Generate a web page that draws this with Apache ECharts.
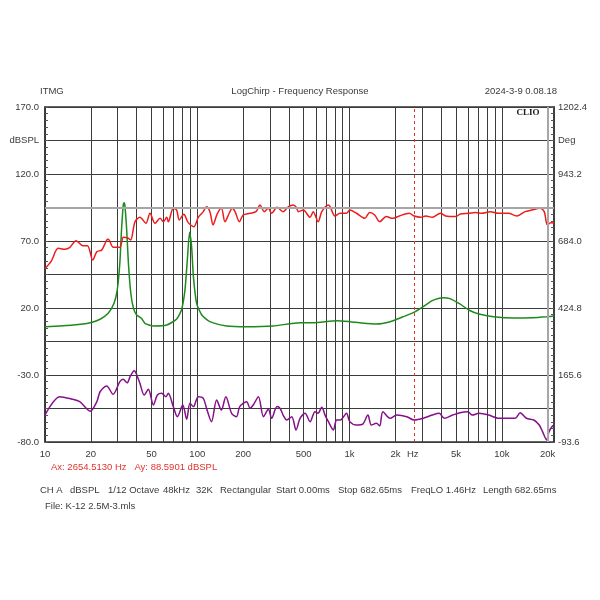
<!DOCTYPE html>
<html>
<head>
<meta charset="utf-8">
<script src="https://cdn.jsdelivr.net/npm/echarts@6/dist/echarts.min.js"></script>
<style>
  html, body { margin: 0; padding: 0; background: #fff; }
  #chart { width: 600px; height: 600px; }
</style>
</head>
<body>
<div id="chart"></div>
<script>
// frequency grid / labels (Hz)
const freqGrid = [10, 20, 30, 40, 50, 60, 70, 80, 90, 100, 200, 300, 400, 500, 600, 700, 800, 900,
  1000, 2000, 3000, 4000, 5000, 6000, 7000, 8000, 9000, 10000, 20000]
const freqLabels = [10, 20, 50, 100, 200, 500, 1000, 2000, 2600, 5000, 10000, 20000]
const hzLabelAt = 2600

const cursorFreq = 2654.513
const cursorSpl = 88.5901

// [Hz, dBSPL]
const splCurve = [
  [10, 49.5], [11, 55], [12.2, 64.5], [13.5, 63.8], [14.5, 65], [16, 70.2], [17.7, 66.5], [19, 66.5],
  [20.6, 55.8], [21.9, 62], [23.6, 63.3], [25.4, 70.7], [26, 71.3], [28.1, 65.3], [31, 65.3],
  [32.7, 72.8], [35.2, 72], [36.5, 70.7], [39, 84.4], [42, 87.7], [46, 83.2], [48.9, 90.7],
  [52.8, 83.2], [57, 86.9], [59.9, 84.4], [63, 87.7], [64.5, 84.4], [69.6, 94.4], [73.2, 93.1],
  [76.1, 85.7], [81.6, 89.9], [87.1, 83.7], [95, 80.7], [101.5, 87.7], [109.5, 91.9], [115, 95.6],
  [121, 91.9], [127, 82], [135, 90.1], [144, 94.4], [152, 84.4], [162, 90.7], [169.5, 94.4],
  [177, 91.9], [189, 84.4], [200, 89.4], [222, 90.7], [243, 91.9], [258, 96.9], [275, 91.9],
  [293, 94.4], [308, 90.7], [334, 95.1], [366, 91.9], [397, 95.6], [427, 96.9], [448, 95],
  [461, 91.9], [497, 93.1], [550, 87.7], [577, 91.9], [622, 84.4], [657, 91.9], [726, 96.9],
  [745, 95.6], [802, 88.7], [865, 90.7], [955, 90.7], [1003, 93.1], [1110, 90.7], [1258, 86.9],
  [1357, 91.2], [1462, 89.4], [1576, 84.4], [1741, 88.2], [1923, 86.9], [2122, 88.7], [2466, 90.7],
  [2656, 88.6], [2937, 87.7], [3162, 88.7], [3492, 87.7], [3962, 90.7], [4273, 88.7], [4965, 88.2],
  [5349, 90.2], [6059, 90.7], [6700, 91.2], [7400, 90.7], [8385, 91.9], [9500, 90.7], [11040, 90.7],
  [12500, 88.7], [14200, 91.9], [15700, 93.1], [17800, 94.4], [18970, 91.9], [19900, 82],
  [20930, 83.7], [22000, 83.5]
]

const resonanceCurve = [
  [10, 6], [15.3, 7.3], [19.8, 9], [23, 11.6], [26, 16], [28.4, 23.5], [29.8, 33.4], [31, 53.4],
  [31.8, 78.2], [32.7, 97.6], [33.1, 98.5], [33.5, 96], [34.4, 78], [35.3, 53.4], [36.6, 31],
  [38.1, 19.8], [40, 14.8], [43, 12.3], [45.3, 8.6], [51.4, 6.6], [63, 7.3], [73, 11.6],
  [78.7, 18.5], [83, 33.4], [86, 55.8], [89, 76.5], [91.8, 65.7], [94.3, 43.4], [99, 23.5],
  [107, 14.8], [121, 9.8], [156, 6.6], [211, 6], [315, 6.6], [473, 9], [577, 9], [824, 10.5],
  [1003, 9.8], [1167, 9], [1500, 8.1], [1845, 9.8], [2250, 13.5], [2620, 16.5], [3050, 21],
  [3490, 25.5], [4110, 27.7], [4560, 27], [5300, 23], [6060, 18.5], [7070, 15.5], [8800, 13.5],
  [11920, 12.5], [16000, 12.8], [19700, 13.5], [22000, 14]
]

const distortionCurve = [
  [10, -59.9], [12.5, -46.2], [14.9, -47.9], [16.9, -49.9], [19.8, -57], [21.9, -49.9], [23, -42.5],
  [25.4, -38.2], [28, -44.4], [31, -35], [32.6, -33.2], [34.6, -35.8], [36.2, -31.3], [38.5, -26.8],
  [39.5, -28.3], [42, -36.2], [44.8, -44.9], [47.7, -40.7], [51.5, -52.4], [54.7, -44.9],
  [58.4, -43.7], [62.3, -46.2], [64.5, -43.7], [69.6, -53.6], [74, -61.1], [80.3, -52.4],
  [85.2, -63.1], [89.5, -51.1], [94.3, -53.6], [101.5, -46.2], [109.5, -47.4], [115, -54.8],
  [124, -64.8], [134, -48.7], [144, -56.1], [154, -46.2], [168, -58.6], [181, -61.1], [190, -53.6],
  [211, -49.9], [222, -54.8], [233, -52.4], [252, -46.2], [272, -61.1], [293, -55.6], [308, -62.3],
  [334, -53.6], [350, -55], [366, -59.9], [387, -63.6], [417, -61.1], [445, -71], [473, -62.3],
  [510, -58.6], [550, -64.8], [593, -57.4], [620, -58.6], [657, -54.1], [690, -59.9], [726, -64.8],
  [782, -71], [823, -63.6], [870, -63.6], [955, -58.6], [1003, -64.8], [1110, -67.3], [1220, -66.6],
  [1320, -59.9], [1390, -67.3], [1500, -66.1], [1576, -68], [1655, -57.4], [1845, -62.3],
  [2040, -59.9], [2375, -61.1], [2656, -63.6], [3050, -62.3], [3490, -59.9], [3880, -58.6],
  [4190, -62.3], [4750, -59.9], [5300, -58.1], [5980, -57.4], [6400, -59.9], [7070, -58.6],
  [8200, -59.9], [9500, -62.3], [11040, -62.3], [12230, -62.3], [13200, -58.1], [14500, -62.3],
  [16200, -63.6], [17600, -67.3], [18500, -72.3], [19700, -78.5], [20400, -72.3], [21500, -68],
  [22000, -67.5]
]

// left axis dBSPL, right axis Deg (same grid)
const splMin = -80, splMax = 170, splStep = 25
const degMin = -93.6, degMax = 1202.4

const infoFields = ['CH A', 'dBSPL', '1/12 Octave', '48kHz', '32K', 'Rectangular', 'Start 0.00ms',
  'Stop 682.65ms', 'FreqLO 1.46Hz', 'Length 682.65ms']
const infoX = [40, 70, 108, 163, 196, 220, 276, 338, 411, 483]

const FONT = 'Liberation Sans, Arial, sans-serif'
const TXT = '#3a3a3a'

const chart = echarts.init(document.getElementById('chart'), null, { renderer: 'canvas' })

function degLabel(v) {
  const d = degMin + (v - splMin) * (degMax - degMin) / (splMax - splMin)
  return d.toFixed(1)
}

function text(str, x, y, align, color, font) {
  return {
    type: 'text', x, y, silent: true,
    style: {
      text: str, fill: color || TXT, font: font || ('9.5px ' + FONT),
      textAlign: align || 'left', textVerticalAlign: 'middle',
      align: align || 'left', verticalAlign: 'middle'
    }
  }
}

const graphics = [
  text('ITMG', 40, 91),
  text('LogChirp - Frequency Response', 300, 91, 'center'),
  text('2024-3-9 0.08.18', 557, 91, 'right'),
  text('CLIO', 528, 113, 'center', '#1a1a1a', 'bold 9px "Liberation Serif", serif'),
  text('Ax: 2654.5130 Hz   Ay: 88.5901 dBSPL', 51, 467, 'left', '#e0342c'),
  text('File: K-12 2.5M-3.mls', 45, 506)
]
infoFields.forEach((f, i) => graphics.push(text(f, infoX[i], 490)))

const yAxisBase = {
  type: 'value', min: splMin, max: splMax, interval: splStep,
  axisLine: { show: true, lineStyle: { color: '#333', width: 1.5 } },
  axisTick: { show: true, inside: true, length: 3, lineStyle: { color: '#555' } },
  minorTick: { show: true, splitNumber: 5, length: 3, lineStyle: { color: '#555' } },
  axisLabel: { color: TXT, fontSize: 9.5, fontFamily: FONT, margin: 6, showMinLabel: true, showMaxLabel: true }
}

const option = {
  animation: false,
  backgroundColor: '#fff',
  grid: { left: 45, right: 46, top: 107, bottom: 158, show: true, borderColor: '#333', borderWidth: 1.5, containLabel: false },
  graphic: graphics,
  xAxis: {
    type: 'log', logBase: 10, min: 10, max: 22000,
    axisLine: { show: false },
    axisTick: { show: false, customValues: freqGrid },
    axisLabel: {
      customValues: freqLabels, color: TXT, fontSize: 9.5, fontFamily: FONT, margin: 7,
      formatter: (v) => {
        if (Math.abs(v - hzLabelAt) < 1) return 'Hz'
        return v >= 1000 ? (v / 1000) + 'k' : String(v)
      }
    },
    splitLine: { show: true, lineStyle: { color: '#3c3c3c', width: 1 } },
    minorTick: { show: false },
    minorSplitLine: { show: false }
  },
  yAxis: [
    Object.assign({}, yAxisBase, {
      position: 'left',
      axisLabel: Object.assign({}, yAxisBase.axisLabel, {
        formatter: (v) => {
          if (Math.abs(v - 145) < 0.01) return 'dBSPL'
          return Math.round(v - splMin) % 50 === 0 ? v.toFixed(1) : ''
        }
      }),
      splitLine: { show: true, lineStyle: { color: '#3c3c3c', width: 1 } }
    }),
    Object.assign({}, yAxisBase, {
      position: 'right',
      axisLabel: Object.assign({}, yAxisBase.axisLabel, {
        margin: 4,
        formatter: (v) => {
          if (Math.abs(v - 145) < 0.01) return 'Deg'
          return Math.round(v - splMin) % 50 === 0 ? degLabel(v) : ''
        }
      }),
      splitLine: { show: false }
    })
  ],
  series: [
    {
      name: 'Distortion', type: 'line', data: distortionCurve, showSymbol: false, smooth: 0.3,
      lineStyle: { color: '#84108a', width: 1.5 }, silent: true,
      markLine: {
        silent: true, symbol: ['none', 'none'], label: { show: false }, animation: false,
        lineStyle: { color: '#a6a6a6', width: 2, type: 'solid' },
        data: [{ yAxis: 95 }, { xAxis: 20000 }]
      }
    },
    {
      name: 'Resonance', type: 'line', data: resonanceCurve, showSymbol: false, smooth: 0.2,
      lineStyle: { color: '#1c8a1c', width: 1.5 }, silent: true
    },
    {
      name: 'SPL', type: 'line', data: splCurve, showSymbol: false, smooth: 0.3,
      lineStyle: { color: '#ee1c1c', width: 1.5 }, silent: true,
      markLine: {
        silent: true, symbol: ['none', 'none'], label: { show: false }, animation: false,
        lineStyle: { color: '#e0342c', width: 1, type: [3, 3] },
        data: [{ xAxis: cursorFreq }]
      }
    }
  ]
}

chart.setOption(option)
</script>
</body>
</html>
